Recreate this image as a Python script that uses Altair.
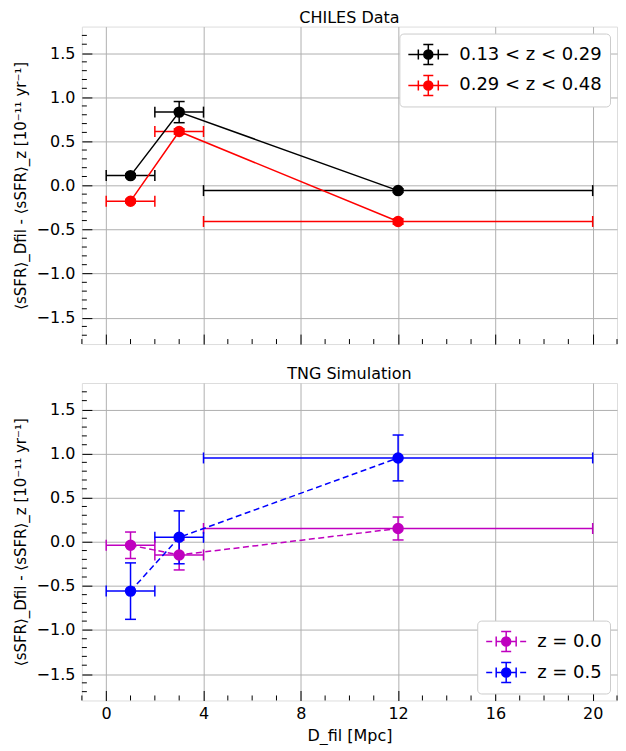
import altair as alt
import pandas as pd

# ---------------- data ----------------
x_pos = [1, 3, 12]
x_lo = [0, 2, 4]
x_hi = [2, 4, 20]

chiles_labels = ["0.13 < z < 0.29", "0.29 < z < 0.48"]
chiles_y = [[0.11, 0.83, -0.06], [-0.18, 0.61, -0.41]]
chiles_yerr = [[0.02, 0.12, 0.02], [0.02, 0.03, 0.03]]
chiles_colors = ["#000000", "#ff0000"]

tng_labels = ["z = 0.0", "z = 0.5"]
tng_y = [[-0.04, -0.15, 0.15], [-0.56, 0.05, 0.95]]
tng_yerr = [[0.15, 0.17, 0.13], [0.32, 0.30, 0.26]]
tng_colors = ["#bf00bf", "#0000ff"]

x_major = [0, 4, 8, 12, 16, 20]
y_major = [-1.5, -1.0, -0.5, 0.0, 0.5, 1.0, 1.5]
x_minor = [-1, 1, 2, 3, 5, 6, 7, 9, 10, 11, 13, 14, 15, 17, 18, 19, 21]
y_minor = [-1.7, -1.6, -1.4, -1.3, -1.2, -1.1, -0.9, -0.8, -0.7, -0.6,
           -0.4, -0.3, -0.2, -0.1, 0.1, 0.2, 0.3, 0.4, 0.6, 0.7, 0.8, 0.9,
           1.1, 1.2, 1.3, 1.4, 1.6, 1.7]

W, H = 536, 318
FONT = "DejaVu Sans"
YTITLE = "⟨sSFR⟩_Dfil - ⟨sSFR⟩_z [10⁻¹¹ yr⁻¹]"

CIRCLE = "M-0.375,0A0.375,0.375,0,1,1,0.375,0A0.375,0.375,0,1,1,-0.375,0Z"
ERR = ("M-0.833,-0.417V0.417M0.833,-0.417V0.417M0,-0.833V0.833"
       "M-0.417,-0.833H0.417M-0.417,0.833H0.417")
PATH_SOLID = "M-1.667,0H1.667" + ERR + CIRCLE
PATH_DASH = "M-1.667,0H-1.167M-0.833,0H0.833M1.167,0H1.667" + ERR + CIRCLE


def build_df(labels, ys, yerrs):
    rows = []
    for lab, yv, ye in zip(labels, ys, yerrs):
        for i in range(len(x_pos)):
            rows.append({"series": lab, "x": x_pos[i], "xlo": x_lo[i], "xhi": x_hi[i],
                         "y": yv[i], "ylo": yv[i] - ye[i], "yhi": yv[i] + ye[i]})
    return pd.DataFrame(rows)


def panel(labels, ys, yerrs, colors, title, dashed, bottom, legend_orient, path):
    df = build_df(labels, ys, yerrs)
    xs = alt.Scale(domain=[-1, 21], nice=False, zero=False)
    ysc = alt.Scale(domain=[-1.8, 1.8], nice=False, zero=False)
    cs = alt.Scale(domain=labels, range=colors)
    leg = alt.Legend(title=None, orient=legend_orient, symbolType=path, symbolSize=576,
                     symbolStrokeWidth=1.5, symbolOffset=8, labelOffset=18,
                     labelFontSize=18, labelFont=FONT,
                     labelColor="black", fillColor="white", strokeColor="#cccccc",
                     cornerRadius=4, padding=8, offset=7, rowPadding=5)
    xaxis = alt.Axis(values=x_major, grid=True, gridColor="#b0b0b0", domain=False,
                     tickSize=10, offset=-10, tickColor="black", tickWidth=1,
                     labels=bottom, labelFontSize=16, labelFont=FONT, labelColor="black",
                     labelPadding=5, labelFlush=False,
                     title="D_fil [Mpc]" if bottom else None, titleFontSize=16,
                     titleFont=FONT, titleFontWeight="normal", titleColor="black",
                     titlePadding=6)
    yaxis = alt.Axis(values=y_major, format=".1f", grid=True, gridColor="#b0b0b0",
                     domain=False, tickSize=10, offset=-10, tickColor="black",
                     tickWidth=1, labelFontSize=16, labelFont=FONT, labelColor="black",
                     labelPadding=7, labelFlush=False, title=YTITLE, titleFontSize=15,
                     titleFont=FONT, titleFontWeight="normal", titleColor="black",
                     titlePadding=8)
    base = alt.Chart(df)
    X = lambda f: alt.X(f"{f}:Q", scale=xs, axis=xaxis)
    Y = lambda f: alt.Y(f"{f}:Q", scale=ysc, axis=yaxis)
    stroke = alt.Stroke("series:N", scale=cs, legend=leg)
    fill = alt.Fill("series:N", scale=cs, legend=leg)

    hx = base.mark_rule(strokeWidth=1.5).encode(x=X("xlo"), x2="xhi:Q", y=Y("y"), stroke=stroke)
    vy = base.mark_rule(strokeWidth=1.5).encode(x=X("x"), y=Y("ylo"), y2="yhi:Q", stroke=stroke)
    cap_xl = base.mark_tick(orient="vertical", size=11, thickness=1.5, opacity=1).encode(
        x=X("xlo"), y=Y("y"), fill=fill)
    cap_xh = base.mark_tick(orient="vertical", size=11, thickness=1.5, opacity=1).encode(
        x=X("xhi"), y=Y("y"), fill=fill)
    cap_yl = base.mark_tick(orient="horizontal", size=11, thickness=1.5, opacity=1).encode(
        x=X("x"), y=Y("ylo"), fill=fill)
    cap_yh = base.mark_tick(orient="horizontal", size=11, thickness=1.5, opacity=1).encode(
        x=X("x"), y=Y("yhi"), fill=fill)
    line_kw = {"strokeWidth": 1.5}
    if dashed:
        line_kw["strokeDash"] = [6, 3.5]
    line = base.mark_line(**line_kw).encode(x=X("x"), y=Y("y"), stroke=stroke,
                                            order="x:Q")
    pts = base.mark_point(filled=True, size=90, opacity=1, shape="circle").encode(
        x=X("x"), y=Y("y"), fill=fill, stroke=stroke)

    # minor ticks (inward)
    ymin_df = pd.DataFrame({"v": y_minor})
    xmin_df = pd.DataFrame({"v": x_minor})
    ymt = alt.Chart(ymin_df).mark_rule(color="black", strokeWidth=1).encode(
        y=alt.Y("v:Q", scale=ysc, axis=yaxis), x=alt.value(0), x2=alt.value(5))
    xmt = alt.Chart(xmin_df).mark_rule(color="black", strokeWidth=1).encode(
        x=alt.X("v:Q", scale=xs, axis=xaxis), y=alt.value(H), y2=alt.value(H - 5))

    return alt.layer(ymt, xmt, hx, vy, cap_xl, cap_xh, cap_yl, cap_yh, line, pts).properties(
        width=W, height=H,
        title=alt.TitleParams(title, fontSize=16, font=FONT, fontWeight="normal",
                              color="black", offset=1))


top = panel(chiles_labels, chiles_y, chiles_yerr, chiles_colors, "CHILES Data",
            False, False, "top-right", PATH_SOLID)
bot = panel(tng_labels, tng_y, tng_yerr, tng_colors, "TNG Simulation",
            True, True, "bottom-right", PATH_DASH)

chart = alt.vconcat(top, bot, spacing=20).resolve_scale(
    stroke="independent", fill="independent").resolve_legend(
    stroke="independent", fill="independent").properties(
    padding={"left": 4, "top": 0, "right": 0, "bottom": 0}
).configure_view(stroke="black", strokeWidth=1.2).configure(background="white")

chart.save("out.html", embed_options={"renderer": "svg", "actions": False})
